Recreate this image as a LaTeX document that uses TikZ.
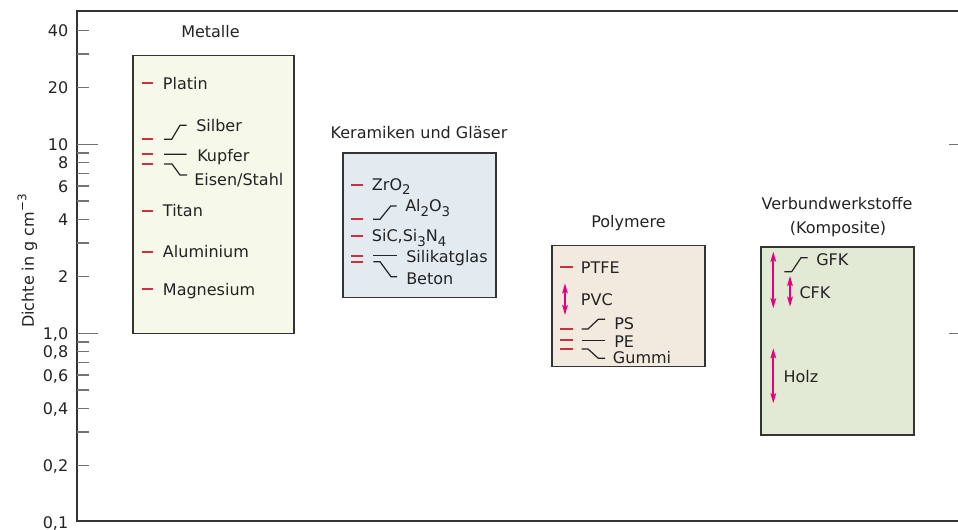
\documentclass[tikz,border=0pt]{standalone}
\usepackage{fontspec}
\setmainfont{DejaVu Sans}
\usetikzlibrary{arrows.meta,calc}

\definecolor{axisgray}{RGB}{51,51,51}
\definecolor{tickgray}{RGB}{115,115,115}
\definecolor{inkgray}{RGB}{35,35,35}
\definecolor{markred}{RGB}{200,50,62}
\definecolor{rangepink}{RGB}{230,0,126}
\definecolor{metalfill}{RGB}{246,248,233}
\definecolor{ceramfill}{RGB}{227,235,240}
\definecolor{polyfill}{RGB}{242,233,223}
\definecolor{compfill}{RGB}{226,233,212}

% lowered index in text font (chemical formulas)
\newcommand{\lowidx}[1]{\raisebox{-0.5ex}{\fontsize{10}{10}\selectfont #1}}

\begin{document}
\begin{tikzpicture}[x=0.75pt,y=-0.75pt,
  font=\fontsize{12}{14}\selectfont,
  every node/.style={text=inkgray, inner sep=0pt, text height=8.75pt, text depth=0pt},
  groupbox/.style={draw=axisgray, line width=1.2pt},
  axisline/.style={draw=axisgray, line width=1.5pt},
  tickline/.style={draw=tickgray, line width=1.1pt},
  densmark/.style={draw=markred, line width=1.3pt},
  lead/.style={draw=inkgray, line width=0.9pt},
  spanarrow/.style={draw=rangepink, line width=1.4pt,
    {Stealth[length=7.5pt,width=4.2pt,inset=1.5pt]}-{Stealth[length=7.5pt,width=4.2pt,inset=1.5pt]}},
  lbl/.style={anchor=west},
  ticklbl/.style={anchor=east},
]
\useasboundingbox (0,0) rectangle (958,530);

% ---------- axis ----------
\draw[axisline] (958,11) -- (77,11) -- (77,521.5) -- (958,521.5);
\foreach \v in {40,30,20,9,8,7,6,5,4,3,2,0.9,0.8,0.7,0.6,0.5,0.4,0.3,0.2}
  \draw[tickline] (77,{333.3-189*log10(\v)}) -- ++(12,0);
\foreach \v in {10,1}
  \draw[tickline] (77,{333.3-189*log10(\v)}) -- ++(21,0);
\draw[tickline] (949,144.3) -- (958,144.3);
\draw[tickline] (949,333.3) -- (958,333.3);
\foreach \v/\t [count=\i] in {40/40,20/20,10/10,8/8,6/6,4/4,2/2,1/{1,0},0.8/{0,8},0.6/{0,6},0.4/{0,4},0.2/{0,2},0.1/{0,1}}
  \node[ticklbl] (ticklabel\i) at (68.5,{333.3-189*log10(\v)}) {\t};
\node[rotate=90] (axistitle) at (28,261)
  {Dichte in g cm\raisebox{0.85ex}{\fontsize{9}{9}\selectfont −3}};

% ---------- Metalle ----------
\draw[groupbox, fill=metalfill] (132.7,55.7) rectangle (294,333.5);
\node (ttlmetal) at (210.5,32) {Metalle};
\foreach \y in {83.3,139.3,154.3,164,210.7,251.7,289.3}
  \draw[densmark] (141.7,\y) -- (153.3,\y);
\node[lbl] (platin) at (162.7,83.3) {Platin};
\node[lbl] (silber) at (196,126) {Silber};
\node[lbl] (kupfer) at (197,155.5) {Kupfer};
\node[lbl] (eisen) at (194,180) {Eisen/Stahl};
\node[lbl] (titan) at (162.7,210.7) {Titan};
\node[lbl] (alu) at (162.7,251.7) {Aluminium};
\node[lbl] (magnes) at (162.7,289.3) {Magnesium};
\coordinate (silberlead) at (164,139.3);
\coordinate (kupferlead) at (164,154.3);
\coordinate (eisenlead) at (164,164);
\draw[lead] (silberlead) -- ++(7.7,0) -- ($(silber.west)+(-16,-0.7)$) -- ($(silber.west)+(-9.3,-0.7)$);
\draw[lead] (kupferlead) -- ($(kupfer.west)+(-10.3,-1.2)$);
\draw[lead] (eisenlead) -- ++(8,0) -- ($(eisen.west)+(-14,-5)$) -- ($(eisen.west)+(-7,-5)$);

% ---------- Keramiken und Glaeser ----------
\draw[groupbox, fill=ceramfill] (342.7,153.3) rectangle (496,297.7);
\node (ttlceram) at (419,132.5) {Keramiken und Gläser};
\foreach \y in {185,219.3,236,255.7,261.7}
  \draw[densmark] (350.7,\y) -- (363.3,\y);
\node[lbl] (zro) at (371.7,184.5) {ZrO\lowidx{2}};
\node[lbl] (alox) at (405,206) {Al\lowidx{2}O\lowidx{3}};
\node[lbl] (sic) at (371.7,235.8) {SiC,Si\lowidx{3}N\lowidx{4}};
\node[lbl] (glas) at (406,256.7) {Silikatglas};
\node[lbl] (beton) at (406,278.3) {Beton};
\coordinate (aloxlead) at (373,219.3);
\coordinate (glaslead) at (373.3,255.7);
\coordinate (betonlead) at (373.3,261.7);
\draw[lead] (aloxlead) -- ++(7,0) -- ($(alox.west)+(-14.3,0)$) -- ($(alox.west)+(-8.3,0)$);
\draw[lead] (glaslead) -- ($(glas.west)+(-9.3,-1)$);
\draw[lead] (betonlead) -- ++(6.7,0) -- ($(beton.west)+(-15,-1.6)$) -- ($(beton.west)+(-9,-1.6)$);

% ---------- Polymere ----------
\draw[groupbox, fill=polyfill] (551.7,245.7) rectangle (705,366.7);
\node (ttlpoly) at (628.5,222) {Polymere};
\foreach \y in {267.3,329,340,349}
  \draw[densmark] (560,\y) -- (572.7,\y);
\node[lbl] (ptfe) at (580.7,267.8) {PTFE};
\node[lbl] (pvc) at (580.7,300) {PVC};
\node[lbl] (ps) at (614,323.8) {PS};
\node[lbl] (pe) at (614,341.7) {PE};
\node[lbl] (gummi) at (612.7,357.2) {Gummi};
\coordinate (pvctop) at (565,283.3);
\coordinate (pvcbot) at (565,315);
\draw[spanarrow] (pvctop) -- (pvcbot);
\coordinate (pslead) at (581.7,329);
\coordinate (pelead) at (581.7,340.5);
\coordinate (gummilead) at (581.7,349);
\draw[lead] (pslead) -- ++(6.3,0) -- ($(ps.west)+(-15.7,-4.5)$) -- ($(ps.west)+(-9,-4.5)$);
\draw[lead] (pelead) -- ($(pe.west)+(-9,-1.2)$);
\draw[lead] (gummilead) -- ++(6.3,0) -- ($(gummi.west)+(-14.4,1.1)$) -- ($(gummi.west)+(-7.7,1.1)$);

% ---------- Verbundwerkstoffe ----------
\draw[groupbox, fill=compfill] (760.7,247.3) rectangle (914,435);
\node (ttlcomp) at (837,204) {Verbundwerkstoffe};
\node (ttlcomp2) at (838,227.5) {(Komposite)};
\node[lbl] (gfk) at (816,259.7) {GFK};
\node[lbl] (cfk) at (799.3,293) {CFK};
\node[lbl] (holz) at (783.3,376.7) {Holz};
\coordinate (gfktop) at (773.3,251.7);
\coordinate (gfkbot) at (773.3,308.3);
\coordinate (cfktop) at (790,276);
\coordinate (cfkbot) at (790,306.7);
\coordinate (holztop) at (773.3,348.3);
\coordinate (holzbot) at (773.3,403.3);
\draw[spanarrow] (gfktop) -- (gfkbot);
\draw[spanarrow] (cfktop) -- (cfkbot);
\draw[spanarrow] (holztop) -- (holzbot);
\coordinate (gfklead) at (784.3,271.7);
\draw[lead] (gfklead) -- ++(7.4,0) -- ($(gfk.west)+(-15,-2)$) -- ($(gfk.west)+(-8.3,-2)$);
\end{tikzpicture}
\end{document}
